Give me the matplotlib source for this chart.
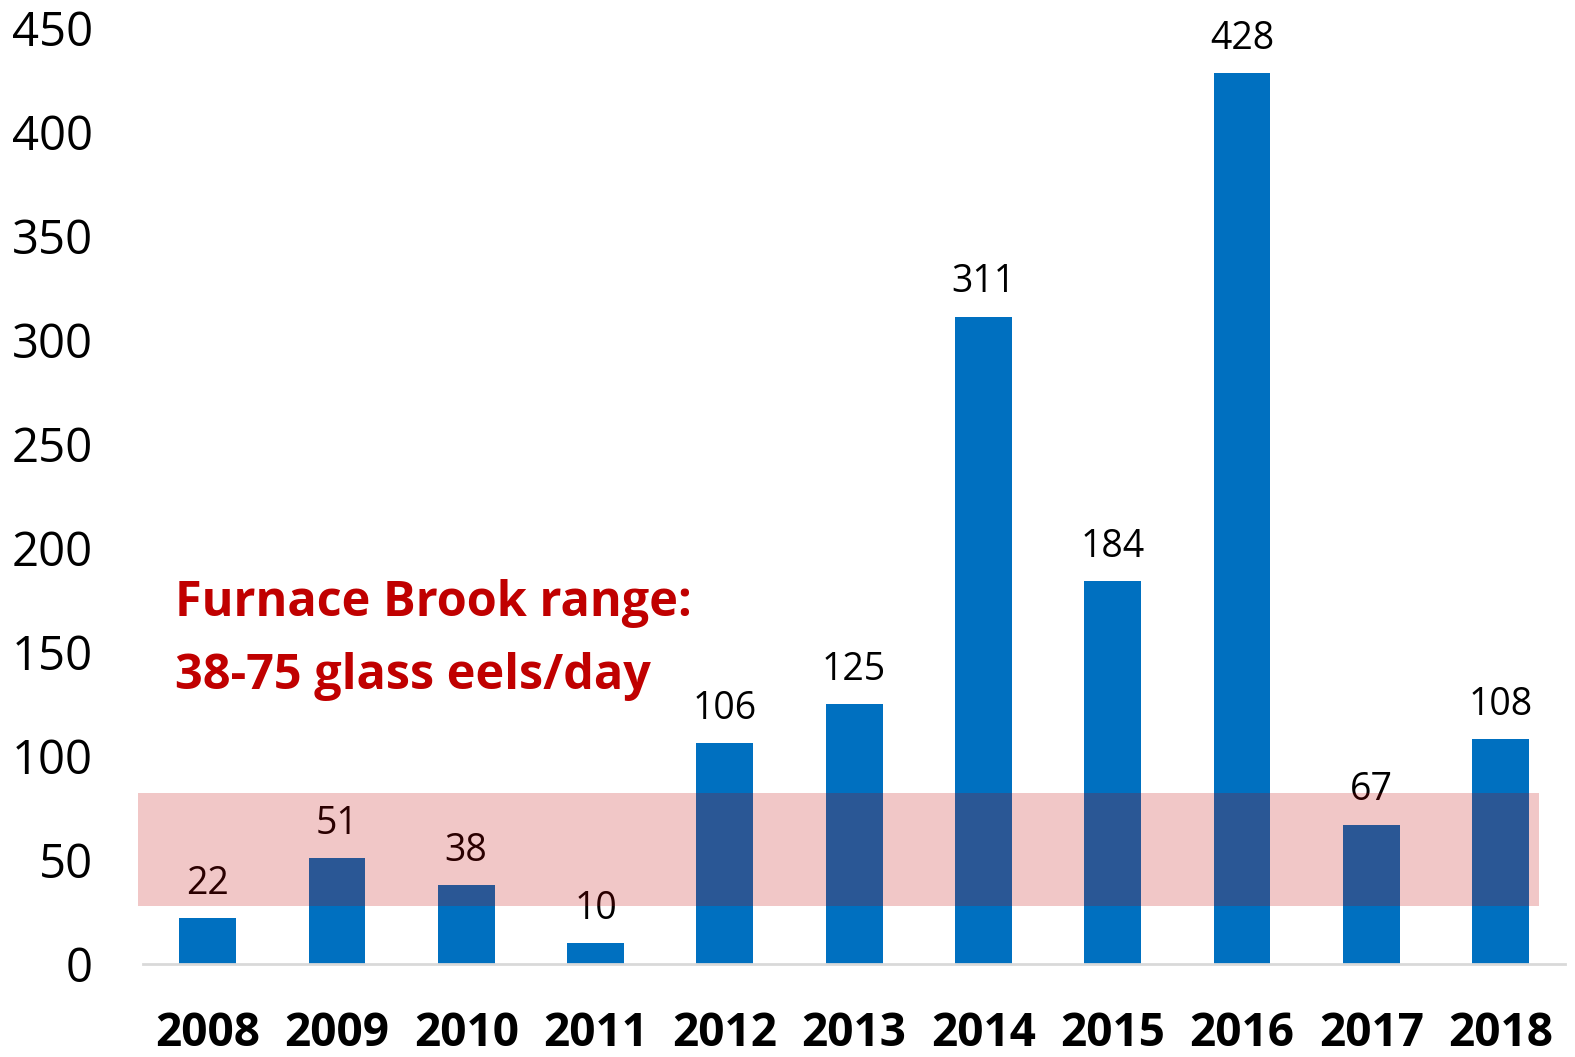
import matplotlib
matplotlib.use('Agg')
import matplotlib.pyplot as plt
from matplotlib.patches import Rectangle

years = ['2008', '2009', '2010', '2011', '2012', '2013',
         '2014', '2015', '2016', '2017', '2018']
eels_per_day = [22, 51, 38, 10, 106, 125, 311, 184, 428, 67, 108]
band_low, band_high = 28, 82
note_lines = ['Furnace Brook range:', '38-75 glass eels/day']

plt.rcParams['font.family'] = ['Open Sans', 'DejaVu Sans']

fig = plt.figure(figsize=(15.75, 10.57), dpi=100)
ax = fig.add_axes([0.0908, 0.088, 0.903, 0.886])

x = range(len(years))
ax.bar(x, eels_per_day, width=0.44, color='#0070C0', zorder=2)

for xi, v in zip(x, eels_per_day):
    ax.annotate(str(v), (xi, v), xytext=(0, 11), textcoords='offset points',
                ha='center', va='bottom', fontsize=27, color='black', zorder=3)

# highlighted range band, drawn over bars and labels
ax.add_patch(Rectangle((-0.54, band_low), 10.84, band_high - band_low,
                       facecolor='#C00000', alpha=0.22, edgecolor='none',
                       zorder=4, clip_on=False))

ax.text(-0.25, 167, note_lines[0], fontsize=35, fontweight='bold',
        color='#C00000', va='baseline', ha='left')
ax.text(-0.25, 132, note_lines[1], fontsize=35, fontweight='bold',
        color='#C00000', va='baseline', ha='left')

ax.set_xlim(-0.5, 10.5)
ax.set_ylim(0, 450)
ax.set_yticks(range(0, 451, 50))
ax.set_xticks(list(x))
ax.set_xticklabels(years, fontsize=33, fontweight='bold')
ax.tick_params(axis='y', length=0, pad=36, labelsize=34)
ax.tick_params(axis='x', length=0, pad=33)

for s in ['top', 'right', 'left']:
    ax.spines[s].set_visible(False)
ax.spines['bottom'].set_color('#D9D9D9')
ax.spines['bottom'].set_linewidth(2)

fig.savefig('out.png', dpi=100)
